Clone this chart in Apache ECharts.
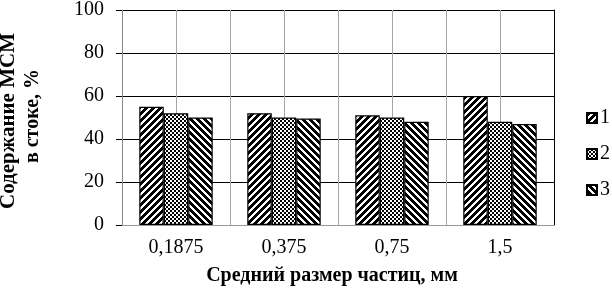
<!DOCTYPE html>
<html><head><meta charset="utf-8">
<script src="https://cdn.jsdelivr.net/npm/echarts@6/dist/echarts.min.js"></script>
<style>html,body{margin:0;padding:0;background:#fff}#c{width:612px;height:291px}</style>
</head><body><div id="c"></div>
<script>
const categories = ['0,1875', '0,375', '0,75', '1,5'];
const halfCategories = ['a','b','c','d','e','f','g','h'];
const series1 = [55, 52, 51, 60];
const series2 = [52, 50, 50, 48];
const series3 = [50, 49.5, 48, 47];
const seriesNames = ['1', '2', '3'];
const yTicks = [0, 20, 40, 60, 80, 100];

function makeTile(size, fn) {
  const c = document.createElement('canvas');
  c.width = size; c.height = size;
  const ctx = c.getContext('2d');
  const img = ctx.createImageData(size, size);
  for (let y = 0; y < size; y++) for (let x = 0; x < size; x++) {
    const v = fn(x, y) ? 0 : 255;
    const i = (y * size + x) * 4;
    img.data[i] = v; img.data[i+1] = v; img.data[i+2] = v; img.data[i+3] = 255;
  }
  ctx.putImageData(img, 0, 0);
  return c;
}
const P = 7;
const slashTile = makeTile(P, (x, y) => ((x + y) % P) < 3.5);
const backTile = makeTile(P, (x, y) => (((x - y) % P + P) % P) < 3.5);
const checkTile = makeTile(4, (x, y) => ((Math.floor(x / 2) + Math.floor(y / 2)) % 2) === 0);

const F = '"Liberation Serif", "Times New Roman", serif';
const chart = echarts.init(document.getElementById('c'), null, {renderer: 'canvas'});
const mk = (name, data, tile) => ({
  name, type: 'bar', data, xAxisIndex: 0, yAxisIndex: 0,
  barGap: '0%', barCategoryGap: '32%',
  itemStyle: { color: { image: tile, repeat: 'repeat' }, borderColor: '#000', borderWidth: 1.2 }
});
chart.setOption({
  animation: false,
  grid: { left: 122, right: 58, top: 8, bottom: 66 },
  legend: {
    orient: 'vertical', left: 586, top: 108, padding: 0,
    itemWidth: 10, itemHeight: 10, itemGap: 16, icon: 'rect',
    textStyle: { fontFamily: F, fontSize: 20, lineHeight: 19, color: '#000', padding: [0,0,0,-2] },
    data: seriesNames
  },
  xAxis: [
    { type: 'category', data: categories, position: 'bottom',
      axisLine: { lineStyle: { color: '#999', width: 1 } },
      axisTick: { show: false },
      splitLine: { show: false },
      axisLabel: { fontFamily: F, fontSize: 20, color: '#000', margin: 13 } },
    { type: 'category', data: halfCategories, position: 'top',
      axisLine: { show: false }, axisTick: { show: false }, axisLabel: { show: false },
      splitLine: { show: true, lineStyle: { color: '#a6a6a6', width: 1 } } }
  ],
  yAxis: [
    { type: 'value', min: 0, max: 100, interval: 20,
      axisLine: { show: true, lineStyle: { color: '#888', width: 1 } },
      axisTick: { show: true, inside: false, length: 6, lineStyle: { color: '#000' } },
      axisLabel: { fontFamily: F, fontSize: 20, color: '#000', margin: 18,
        formatter: v => yTicks.includes(v) ? String(v) : '' },
      splitLine: { show: true, lineStyle: { color: ['#999', '#000', '#000', '#000', '#000', '#000'], width: 1 } } },
    { type: 'value', min: 0, max: 100, interval: 20, position: 'right',
      axisLine: { show: true, lineStyle: { color: '#000', width: 1 } },
      axisTick: { show: false }, axisLabel: { show: false }, splitLine: { show: false } }
  ],
  series: [
    mk(seriesNames[0], series1, slashTile),
    mk(seriesNames[1], series2, checkTile),
    mk(seriesNames[2], series3, backTile)
  ],
  graphic: [
    { type: 'text', x: 9, y: 121, rotation: Math.PI / 2,
      style: { text: 'Содержание МСМ', font: 'bold 21px ' + F, fill: '#000', align: 'center', verticalAlign: 'middle' } },
    { type: 'text', x: 33, y: 116, rotation: Math.PI / 2,
      style: { text: 'в стоке, %', font: 'bold 20px ' + F, fill: '#000', align: 'center', verticalAlign: 'middle' } },
    { type: 'text', x: 332, y: 276,
      style: { text: 'Средний размер частиц, мм', font: 'bold 20px ' + F, fill: '#000', align: 'center', verticalAlign: 'middle' } }
  ]
});
</script></body></html>
